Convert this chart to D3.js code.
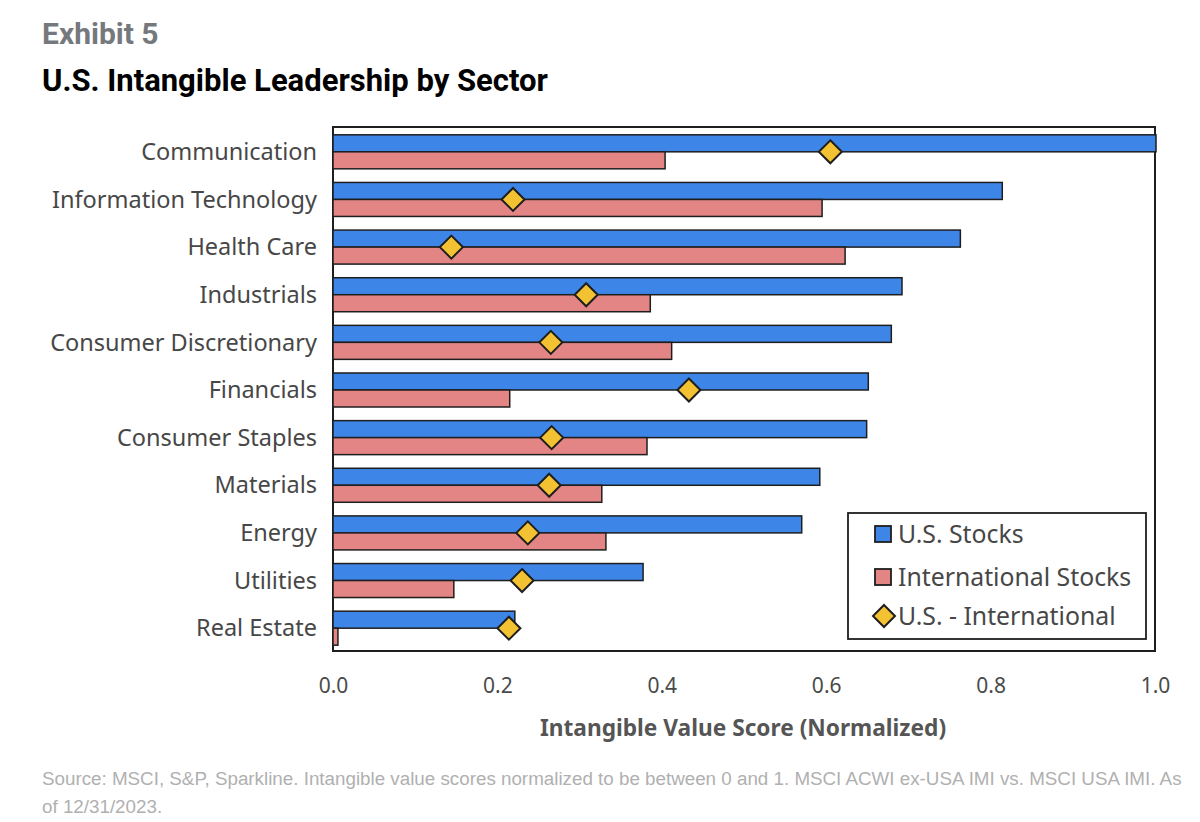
<!DOCTYPE html>
<html><head><meta charset="utf-8">
<script src="https://cdn.jsdelivr.net/npm/d3@7/dist/d3.min.js"></script>
<style>body{margin:0;background:#fff;}svg{display:block;}</style>
</head><body>
<svg id="chart" width="1200" height="822"></svg>
<script>
const categories = ["Communication","Information Technology","Health Care","Industrials","Consumer Discretionary","Financials","Consumer Staples","Materials","Energy","Utilities","Real Estate"];
const usStocks = [1.0,0.813,0.762,0.691,0.678,0.650,0.648,0.591,0.569,0.376,0.220];
const intlStocks = [0.404,0.595,0.623,0.386,0.412,0.215,0.382,0.327,0.332,0.147,0.006];
const usMinusIntl = [0.605,0.219,0.144,0.308,0.265,0.433,0.266,0.263,0.237,0.230,0.214];
const xTicks = [0,0.2,0.4,0.6,0.8,1.0];
const seriesNames = ["U.S. Stocks","International Stocks","U.S. - International"];

const svg = d3.select("#chart");
const L=333, R=1155, T=127, B=651;
const x = d3.scaleLinear().domain([0,1]).range([L,R]);
const y = d3.scaleBand().domain(categories).range([T,B]).padding(0);
const bh = 17;
const colBlue="#3d86e8", colPink="#e48585", colGold="#f3c233", stroke="#1e1e1e";

svg.append("text").attr("x",42).attr("y",44).text("Exhibit 5")
  .attr("font-family","Roboto").attr("font-weight",700).attr("font-size",30).attr("fill","#75797e");
svg.append("text").attr("x",42).attr("y",91).text("U.S. Intangible Leadership by Sector")
  .attr("font-family","Roboto").attr("font-weight",700).attr("font-size",31).attr("fill","#000");

const cy = c => y(c)+y.bandwidth()/2+1;

svg.append("rect").attr("x",L).attr("y",T).attr("width",R-L).attr("height",B-T)
  .attr("fill","none").attr("stroke",stroke).attr("stroke-width",2);

// bars
const g = svg.append("g");
g.selectAll("rect.us").data(categories).join("rect")
  .attr("x",x(0)).attr("y",c=>cy(c)-bh).attr("width",(c,i)=>x(usStocks[i])-x(0)+1).attr("height",bh)
  .attr("fill",colBlue).attr("stroke",stroke).attr("stroke-width",1.5);
g.selectAll("rect.intl").data(categories).join("rect").attr("class","intl")
  .attr("x",x(0)).attr("y",c=>cy(c)).attr("width",(c,i)=>x(intlStocks[i])-x(0)).attr("height",bh)
  .attr("fill",colPink).attr("stroke",stroke).attr("stroke-width",1.5);

const dsz = 11.5;
const diamond = `M0,${-dsz}L${dsz},0L0,${dsz}L${-dsz},0Z`;
svg.append("g").selectAll("path").data(categories).join("path")
  .attr("d",diamond).attr("transform",(c,i)=>`translate(${x(usMinusIntl[i])},${cy(c)})`)
  .attr("fill",colGold).attr("stroke",stroke).attr("stroke-width",2).attr("stroke-linejoin","miter");

// y labels
svg.append("g").selectAll("text").data(categories).join("text")
  .attr("x",317).attr("y",c=>cy(c)).attr("dy","0.35em").attr("text-anchor","end").text(d=>d)
  .attr("font-family","Noto Sans").attr("font-size",23.5).attr("fill","#474747");

// x axis
const xa = svg.append("g").attr("transform",`translate(0,${B})`)
  .call(d3.axisBottom(x).tickValues(xTicks).tickFormat(d3.format(".1f")).tickSize(0).tickPadding(27));
xa.select(".domain").remove();
xa.selectAll("text").attr("font-family","Noto Sans").attr("font-size",21).attr("fill","#4a4a4a");

svg.append("text").attr("x",743).attr("y",736).attr("text-anchor","middle").text("Intangible Value Score (Normalized)")
  .attr("font-family","Noto Sans").attr("font-weight",700).attr("font-size",22.7).attr("fill","#555");

// legend
svg.append("rect").attr("x",848).attr("y",513).attr("width",298).attr("height",126)
  .attr("fill","#fff").attr("stroke",stroke).attr("stroke-width",1.8);
const ly = [534,577,616];
const lcol = [colBlue,colPink];
[0,1].forEach(i=>{
  svg.append("rect").attr("x",875).attr("y",ly[i]-8).attr("width",16).attr("height",16)
    .attr("fill",lcol[i]).attr("stroke",stroke).attr("stroke-width",1.8);
});
svg.append("path").attr("d",`M0,-11L11,0L0,11L-11,0Z`).attr("transform",`translate(884,${ly[2]})`)
  .attr("fill",colGold).attr("stroke",stroke).attr("stroke-width",2);
seriesNames.forEach((s,i)=>{
  svg.append("text").attr("x",898).attr("y",ly[i]).attr("dy","0.35em").text(s)
    .attr("font-family","Noto Sans").attr("font-size",24.8).attr("fill","#474747");
});

// footnote
const foot = ["Source: MSCI, S&P, Sparkline. Intangible value scores normalized to be between 0 and 1. MSCI ACWI ex-USA IMI vs. MSCI USA IMI. As","of 12/31/2023."];
foot.forEach((t,i)=>{
  svg.append("text").attr("x",42).attr("y",785+i*28).text(t)
    .attr("font-family","Liberation Sans").attr("font-size",18.8).attr("fill","#b0b0b0");
});
</script>
</body></html>
